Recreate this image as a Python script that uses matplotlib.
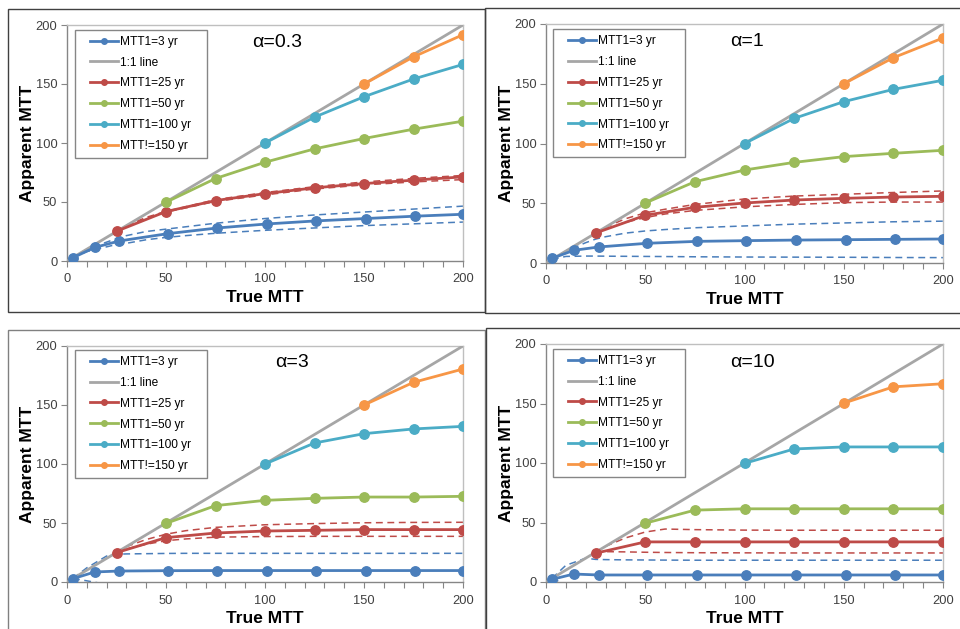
import matplotlib
matplotlib.use("Agg")
import matplotlib.pyplot as plt
from matplotlib.lines import Line2D
from matplotlib.patches import Rectangle
from matplotlib.legend_handler import HandlerLine2D

plt.rcParams['font.family'] = ['Liberation Sans', 'DejaVu Sans']

# ---------------- data ----------------
alphas = ["α=0.3", "α=1", "α=3", "α=10"]

x_blue = [3, 14, 26.5, 51, 76, 101, 126, 151, 176, 200]
x_red = [25, 50, 75, 100, 125, 150, 175, 200]
x_green = [50, 75, 100, 125, 150, 175, 200]
x_cyan = [100, 125, 150, 175, 200]
x_orange = [150, 175, 200]
x_dash = [3, 10, 20, 25, 30, 40, 50, 60, 75, 100, 125, 150, 175, 200]
one_to_one = [0, 200]

blue = [
    [2.8, 11.5, 17, 23.2, 28, 31.4, 34, 36, 38, 39.6],
    [3.9, 10.6, 13.4, 16.5, 18.1, 18.7, 19.2, 19.5, 19.8, 20.1],
    [2.8, 8.5, 9.3, 9.6, 9.7, 9.7, 9.7, 9.7, 9.7, 9.7],
    [2.2, 6.7, 5.9, 5.9, 5.9, 5.9, 5.9, 5.9, 5.9, 5.9],
]
red = [
    [25.2, 41.9, 51.2, 57.1, 62, 65.6, 68.5, 71.3],
    [25.1, 39.9, 46.6, 50.2, 52.7, 54.1, 55.2, 55.8],
    [24.9, 37.6, 41.5, 43.2, 43.8, 44.4, 44.4, 44.4],
    [24.2, 33.7, 33.7, 33.7, 33.7, 33.7, 33.7, 33.7],
]
green = [
    [49.8, 69.9, 83.7, 95, 103.8, 111.7, 118.5],
    [50.2, 68, 77.8, 84.2, 89, 91.8, 94.3],
    [49.7, 64.7, 69.2, 70.9, 72, 72, 72.6],
    [49.4, 60.4, 61.5, 61.5, 61.5, 61.5, 61.5],
]
cyan = [
    [100, 121.9, 139.2, 154.2, 166.6],
    [100, 121, 135, 145.3, 152.9],
    [100, 117.8, 125.7, 129.7, 131.9],
    [99.7, 111.8, 113.5, 113.5, 113.5],
]
orange = [
    [150, 173, 191.8],
    [150, 171.8, 188.3],
    [150, 169.2, 180.5],
    [150.3, 164, 166.6],
]
# dashed bounds (on x_dash); None = not drawn
blue_up = [
    [3, 10, 16, 19, 21.5, 25, 27, 29, 32, 36, 39, 41.5, 44, 46.5],
    [3, 10, 17, 20, 22, 25, 26.8, 28, 29.5, 31, 32.5, 33.5, 34.5, 35],
    [3, 12, 22, 23.5, 23.8, 24, 24.2, 24.3, 24.3, 24.3, 24.3, 24.3, 24.3, 24.3],
    [3, 14, 20, 19, 18.8, 18.6, 18.5, 18.4, 18.3, 18.3, 18.3, 18.3, 18.3, 18.3],
]
blue_lo = [
    [3, 8, 12, 14, 15, 18, 20, 21.5, 23.5, 26, 28, 30, 31.5, 33],
    [3, 5.5, 5.8, 5.8, 5.7, 5.6, 5.5, 5.4, 5.2, 5, 4.9, 4.8, 4.6, 4.5],
    [3, 1, -2, -3, -3, -3, -3, -3, -3, -3, -3, -3, -3, -3],
    [3, -2, -4, -4, -4, -4, -4, -4, -4, -4, -4, -4, -4, -4],
]
red_up = [
    [None, None, None, 25, 30, 37, 42, 46, 52, 58, 63, 67, 70, 72.5],
    [None, None, None, 25, 30, 37, 42, 45, 49, 53.6, 56, 57.5, 59, 60.3],
    [None, None, None, 25, 30, 36, 40.5, 43.5, 46.3, 48.5, 49.5, 50.2, 50.5, 50.6],
    [None, None, None, 25, 30, 37, 42, 44.5, 44, 43.6, 43.5, 43.5, 43.5, 43.5],
]
red_lo = [
    [None, None, None, 25, 29.5, 36, 41.5, 45, 50.5, 56, 61, 64.5, 67, 69],
    [None, None, None, 25, 28.5, 34, 38, 41, 44, 47, 49, 50.5, 51, 51],
    [None, None, None, 25, 28, 32, 35, 36.5, 38, 38.5, 38.7, 38.7, 38.7, 38.7],
    [None, None, None, 25, 25.5, 25.3, 25, 24.8, 24.6, 24.5, 24.4, 24.4, 24.4, 24.4],
]

C_BLUE = "#4A7EBB"
C_GRAY = "#A6A6A6"
C_RED = "#BE4B48"
C_GREEN = "#9BBB59"
C_CYAN = "#4BACC6"
C_ORANGE = "#F79646"

labels = ["MTT1=3 yr", "1:1 line", "MTT1=25 yr", "MTT1=50 yr", "MTT1=100 yr", "MTT!=150 yr"]

W, H = 960, 629
fig = plt.figure(figsize=(9.6, 6.29), dpi=100)

# panel frames (pixels: x0, y0_top, x1, y1_bottom)
frames = [(8, 9, 485, 312, "#404040"), (485, 8, 980, 313, "#404040"),
          (8, 330, 485, 650, "#808080"), (486, 328, 980, 650, "#404040")]
for x0, y0, x1, y1, col in frames:
    fig.add_artist(Rectangle((x0 / W, 1 - y1 / H), (x1 - x0) / W, (y1 - y0) / H,
                             transform=fig.transFigure, fill=False,
                             edgecolor=col, linewidth=1.0, clip_on=False))

# axes boxes in pixels: x0, x1, ytop, ybottom
boxes = [(67, 463, 25, 261), (546, 943, 24, 263), (67, 463, 346, 582), (546, 943, 344, 582)]
alpha_pos = [(0.53, 0.924), (0.506, 0.925), (0.568, 0.928), (0.519, 0.924)]
legend_box = [(0.020, 0.980), (0.017, 0.978), (0.020, 0.983), (0.017, 0.979)]

for i, (x0, x1, yt, yb) in enumerate(boxes):
    ax = fig.add_axes([x0 / W, 1 - yb / H, (x1 - x0) / W, (yb - yt) / H])
    ax.set_xlim(0, 200)
    ax.set_ylim(0, 200)

    def dash(y, col):
        xs = [x for x, v in zip(x_dash, y) if v is not None]
        ys = [v for v in y if v is not None]
        ax.plot(xs, ys, color=col, lw=1.1, ls=(0, (4.5, 3)), zorder=2)

    dash(blue_up[i], C_BLUE)
    dash(blue_lo[i], C_BLUE)
    dash(red_up[i], C_RED)
    dash(red_lo[i], C_RED)

    ax.plot(one_to_one, one_to_one, color=C_GRAY, lw=2.0, zorder=3)
    kw = dict(lw=2.0, marker='o', markersize=6.8, zorder=4)
    ax.plot(x_blue, blue[i], color=C_BLUE, **kw)
    ax.plot(x_red, red[i], color=C_RED, **kw)
    ax.plot(x_green, green[i], color=C_GREEN, **kw)
    ax.plot(x_cyan, cyan[i], color=C_CYAN, **kw)
    ax.plot(x_orange, orange[i], color=C_ORANGE, **kw)

    # ticks
    ax.set_xticks([0, 50, 100, 150, 200])
    ax.set_xticks(range(0, 201, 10), minor=True)
    ax.set_yticks([0, 50, 100, 150, 200])
    ax.tick_params(axis='both', which='both', direction='out', length=4, width=0.8,
                   colors="#868686", labelcolor="#404040", labelsize=9.3, pad=3)
    ax.tick_params(axis='x', which='major', pad=5)
    for s in ['left', 'bottom']:
        ax.spines[s].set_color("#868686")
        ax.spines[s].set_linewidth(1.0)
    for s in ['top', 'right']:
        ax.spines[s].set_color("#BFBFBF")
        ax.spines[s].set_linewidth(1.0)

    ax.set_xlabel("True MTT", fontsize=12.5, fontweight='bold', labelpad=3)
    ax.set_ylabel("Apparent MTT", fontsize=12.5, fontweight='bold', labelpad=0.5)
    ax.text(alpha_pos[i][0], alpha_pos[i][1], alphas[i], transform=ax.transAxes,
            ha='center', va='center', fontsize=14)

    lk = dict(lw=2.0, marker='o', markersize=4)
    handles = [Line2D([], [], color=C_BLUE, **lk),
               Line2D([], [], color=C_GRAY, lw=2.0),
               Line2D([], [], color=C_RED, **lk),
               Line2D([], [], color=C_GREEN, **lk),
               Line2D([], [], color=C_CYAN, **lk),
               Line2D([], [], color=C_ORANGE, **lk)]
    lx, ly = legend_box[i]
    leg = ax.legend(handles, labels, loc='upper left',
                    bbox_to_anchor=(lx, ly - 0.55, 0.333, 0.55), mode='expand',
                    borderaxespad=0, fontsize=8.6, handlelength=3.1, handletextpad=0.15,
                    labelspacing=0.74, fancybox=False, framealpha=1, borderpad=0.5,
                    handler_map={Line2D: HandlerLine2D(xpad=0.76)})
    leg.get_frame().set_edgecolor("#868686")
    leg.get_frame().set_linewidth(1.0)

fig.savefig("out.png", dpi=100)
